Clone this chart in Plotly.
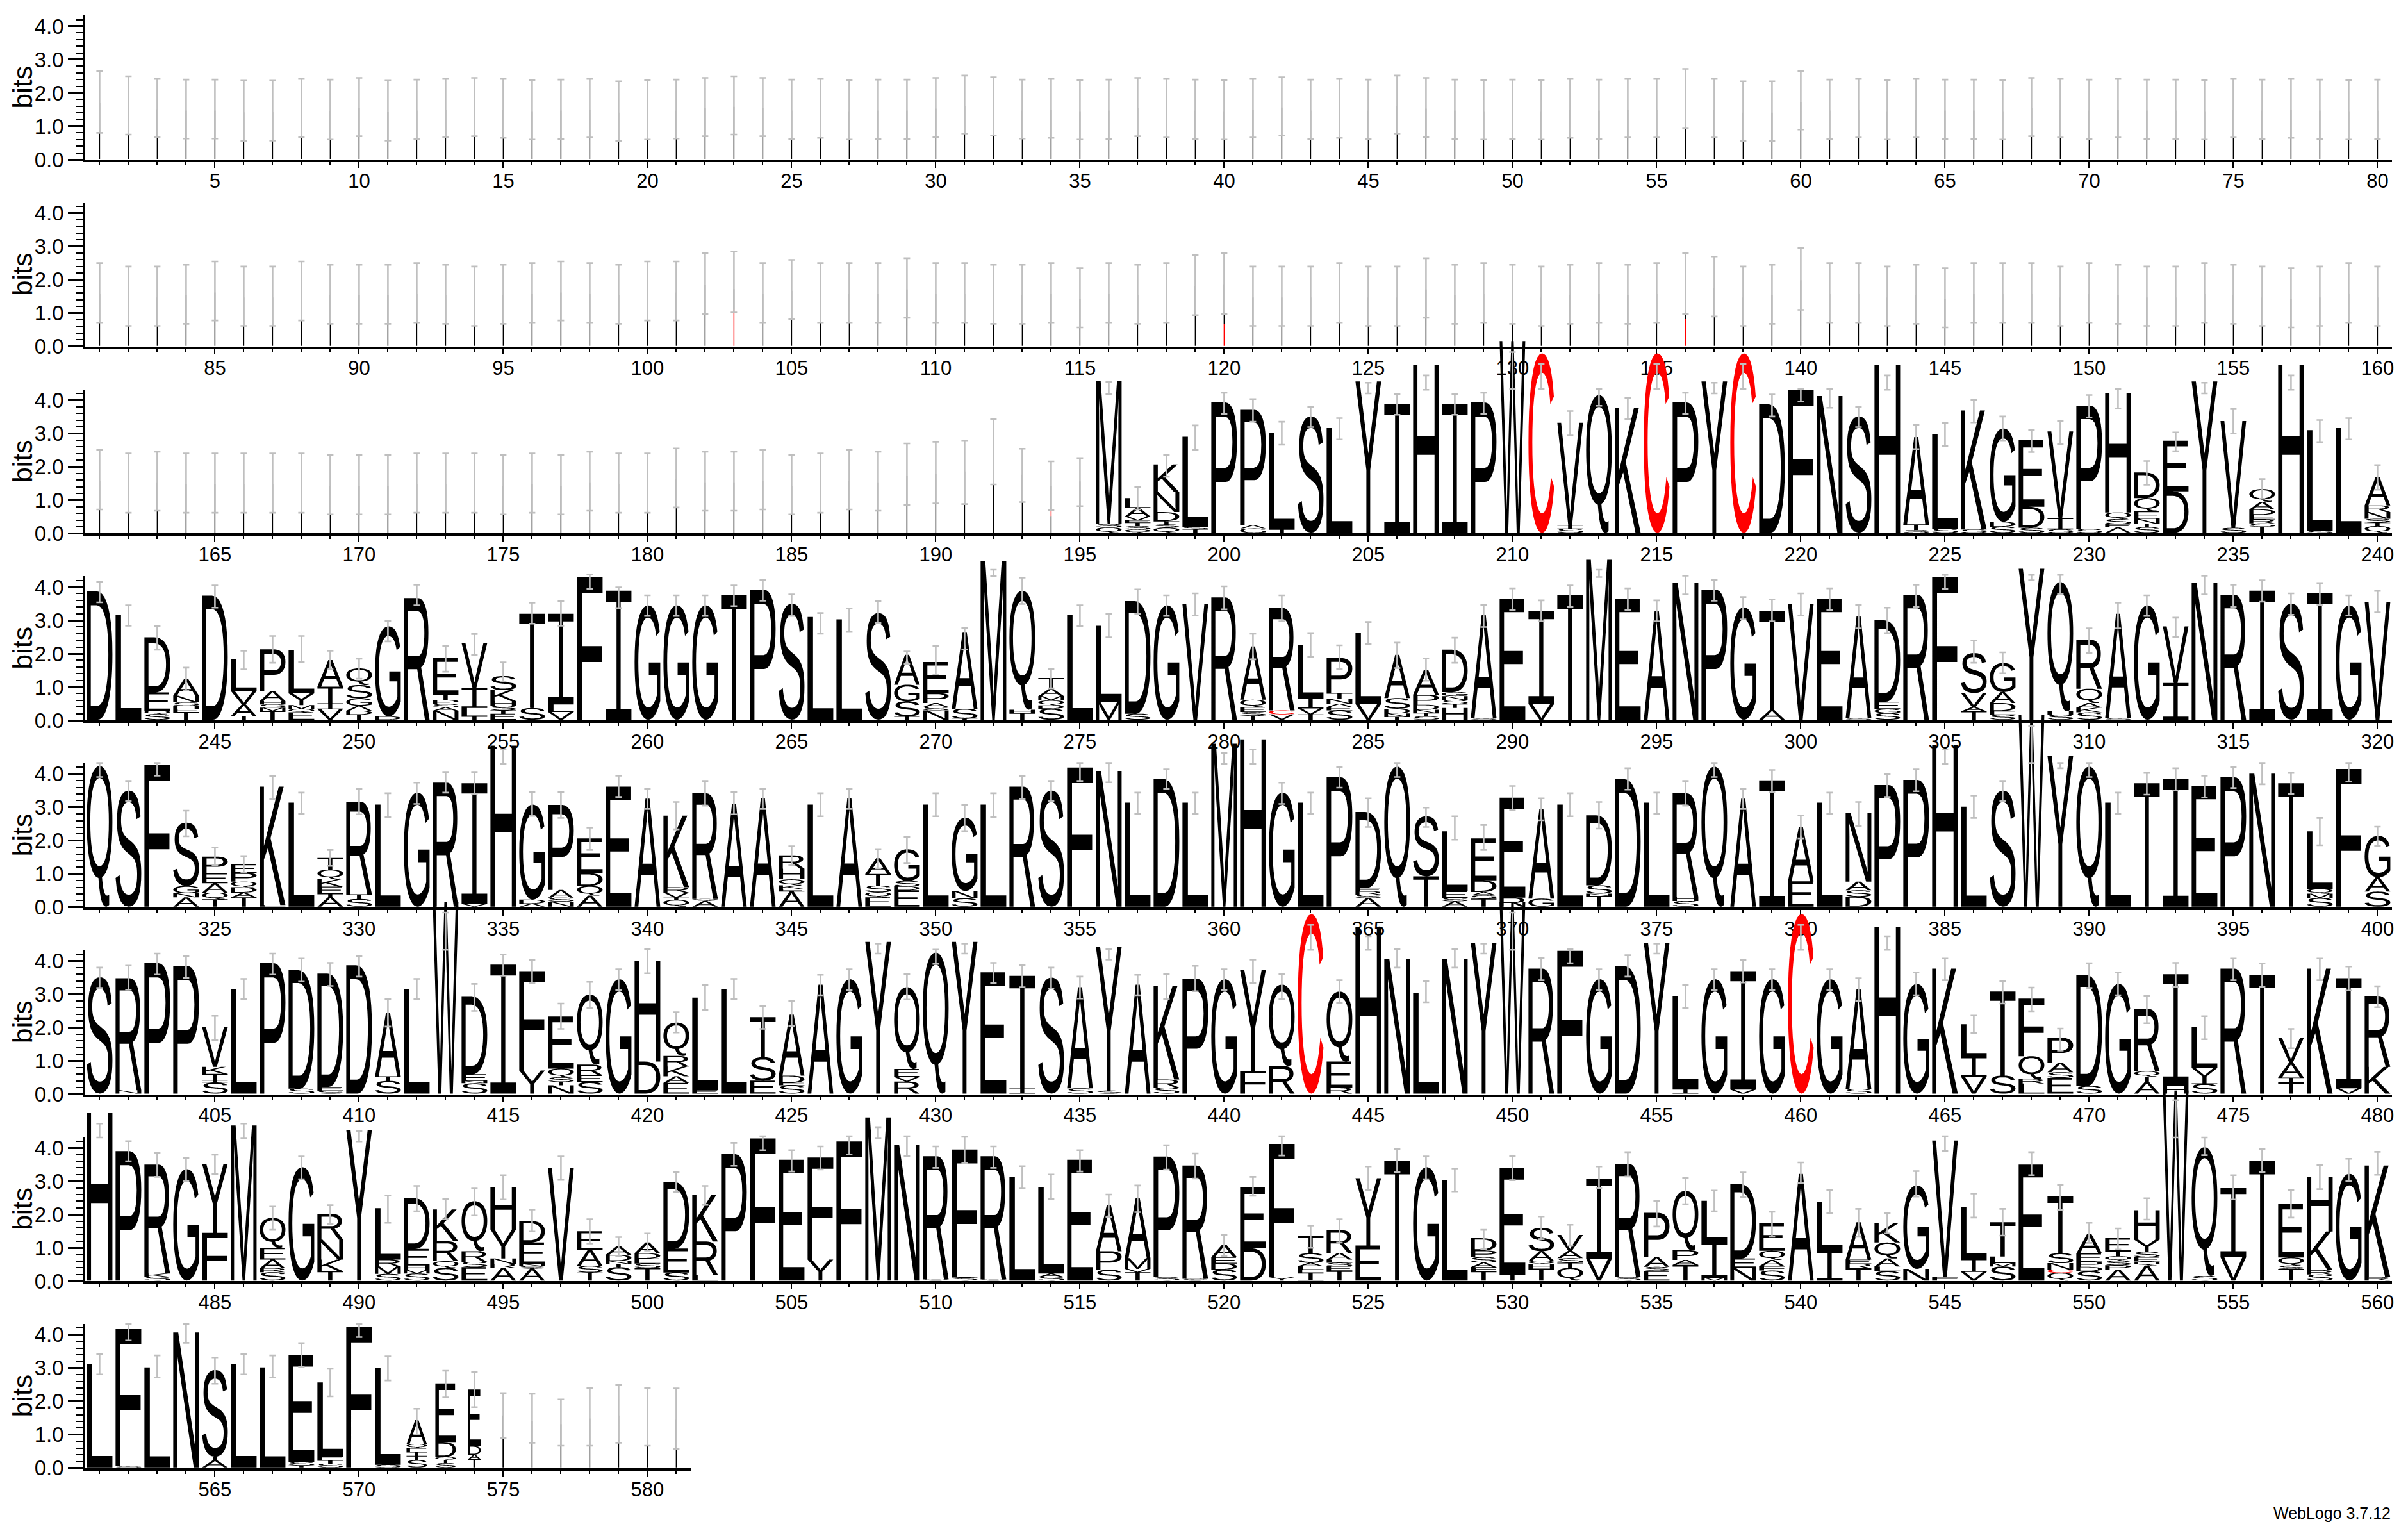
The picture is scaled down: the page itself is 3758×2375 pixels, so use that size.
import glob, struct
import plotly.graph_objects as go

# ---------------- data ----------------
first_positions = [1, 81, 161, 241, 321, 401, 481, 561]
row_lengths = [80, 80, 80, 80, 80, 80, 80, 21]
y_ticks = [0, 1, 2, 3, 4]
y_tick_labels = ["0.0", "1.0", "2.0", "3.0", "4.0"]

err_hi_r1 = [2.65,2.5,2.42,2.4,2.4,2.37,2.37,2.42,2.4,2.45,2.37,2.4,2.42,2.45,2.42,2.38,2.4,2.42,2.35,2.38,
 2.4,2.45,2.5,2.45,2.4,2.42,2.38,2.4,2.4,2.45,2.52,2.47,2.4,2.42,2.38,2.4,2.45,2.42,2.4,2.38,
 2.42,2.47,2.4,2.42,2.4,2.52,2.45,2.4,2.38,2.4,2.38,2.42,2.4,2.42,2.42,2.72,2.42,2.35,2.35,2.65,
 2.4,2.42,2.38,2.42,2.4,2.4,2.38,2.45,2.42,2.4,2.42,2.4,2.4,2.38,2.42,2.4,2.42,2.4,2.38,2.4]
err_lo_r1 = [.8,.75,.68,.63,.63,.55,.57,.67,.6,.7,.57,.62,.67,.7,.65,.6,.62,.66,.55,.6,
 .63,.7,.75,.7,.62,.65,.6,.62,.62,.68,.78,.72,.63,.65,.6,.62,.7,.66,.62,.6,
 .66,.72,.62,.65,.62,.78,.68,.62,.6,.62,.6,.65,.62,.66,.66,.95,.66,.55,.55,.9,
 .62,.66,.6,.66,.62,.62,.6,.7,.66,.62,.66,.62,.62,.6,.66,.62,.65,.62,.6,.62]
stacks_r1 = [None] * 80

err_hi_r2 = [2.5,2.4,2.4,2.45,2.55,2.4,2.4,2.55,2.45,2.45,2.45,2.5,2.45,2.4,2.45,2.5,2.55,2.5,2.45,2.55,
 2.55,2.8,2.85,2.5,2.6,2.5,2.5,2.5,2.65,2.5,2.5,2.45,2.45,2.5,2.35,2.5,2.45,2.5,2.75,2.8,
 2.4,2.4,2.4,2.5,2.4,2.4,2.65,2.45,2.5,2.45,2.4,2.45,2.5,2.45,2.5,2.8,2.7,2.4,2.45,2.95,
 2.5,2.5,2.4,2.45,2.35,2.5,2.5,2.5,2.4,2.5,2.45,2.4,2.4,2.5,2.45,2.4,2.35,2.4,2.5,2.4]
err_lo_r2 = [.72,.62,.62,.68,.78,.62,.62,.78,.68,.68,.68,.72,.68,.62,.68,.72,.78,.72,.68,.78,
 .78,.98,1.02,.72,.82,.72,.72,.72,.86,.72,.72,.68,.68,.72,.57,.72,.68,.72,.94,.98,
 .62,.62,.62,.72,.62,.62,.86,.68,.72,.68,.62,.68,.72,.68,.72,.98,.9,.62,.68,1.1,
 .72,.72,.62,.68,.57,.72,.72,.72,.62,.72,.68,.62,.62,.72,.68,.62,.57,.62,.72,.62]
stacks_r2 = [None] * 80
stacks_r2[22] = "|.6 c1.1"
stacks_r2[39] = "|1.2 c.65"
stacks_r2[55] = "|1.1 c.8"

err_hi_r3 = [2.5,2.4,2.45,2.4,2.4,2.4,2.4,2.4,2.35,2.35,2.35,2.4,2.4,2.4,2.35,2.4,2.35,2.45,2.4,2.4,
 2.55,2.45,2.45,2.5,2.35,2.4,2.5,2.45,2.7,2.75,2.79,3.43,2.54,2.16,2.26,
 4.54,1.4,2.36,3.24,4.22,4.03,3.35,3.79,3.46,4.52,4.18,4.74,4.18,4.22,5.44,5.08,3.67,4.34,4.07,5.08,
 4.22,4.52,5.08,4.17,4.34,4.34,3.79,4.74,3.26,3.32,4.0,3.51,3.11,3.38,4.15,4.34,2.17,3.03,4.52,3.73,
 1.63,4.74,3.4,3.46,2.05]
err_lo_r3 = [.72,.62,.68,.62,.62,.62,.62,.62,.57,.57,.57,.62,.62,.62,.57,.62,.57,.68,.62,.62,
 .78,.68,.68,.72,.57,.62,.72,.68,.86,.9,.88,1.47,.94,.7,.82,
 4.18,.72,1.7,2.51,3.59,3.35,2.66,3.19,2.82,4.2,3.56,4.31,3.56,3.59,4.33,4.33,2.94,3.83,3.43,4.33,
 3.59,4.2,4.33,3.51,3.96,3.77,3.19,4.31,2.53,2.62,3.33,2.79,2.44,2.68,3.48,3.75,1.46,2.47,4.2,3.0,
 1.04,4.31,2.74,2.82,1.31]
stacks_r3 = [None] * 30 + ["|1.84", "|2.45", "|1.74", "|.7 c.2 |.5", "|1.54",
 "M4.3 S.1 Q.16", "L.3 A.25 V.12 E.07 T.1 S.1 Q.1", "K.83 N.6 D.27 T.1 S.1 Q.15", "L2.7 S.08 T.1", "P3.91",
 "P3.46 A.1 G.13", "L2.9 T.1", "S3.49", "L3.14", "Y4.54", "I3.87", "H5.04", "I3.87", "P3.91", "W5.75",
 "C5.38", "V3.08 I.1 S.12", "Q4.13", "K3.75", "C5.38", "P3.91", "Y4.54", "C5.38", "D3.85", "F4.28",
 "N4.1", "S3.49", "H5.04", "A2.62 T.17 S.08", "L2.85 S.12", "K3.57 S.1", "G2.8 D.15 S.18", "E2.0 D.63 S.15",
 "V2.6 I.34 S.1", "P3.7 S.11", "H3.57 Q.2 S.15 E.1 A.16", "D.77 Q.4 E.22 N.15 T.1 S.17", "E1.52 D1.24", "Y4.54",
 "V3.2 S.15", "Q.38 A.23 D.16 E.14 R.12 S.1 T.18", "H5.04", "L3.03 S.05", "L3.14", "A.85 R.2 N.2 S.12 T.1 Q.2"]

err_hi_r4 = [4.15,3.45,2.83,1.58,4.05,2.09,2.53,2.53,2.09,1.85,2.99,4.07,2.24,2.59,1.74,3.53,3.57,4.38,3.99,3.75,
 3.75,3.75,4.05,4.21,3.78,3.22,3.36,3.57,2.07,2.24,2.77,4.52,4.28,1.54,3.45,3.19,3.93,3.75,3.81,4.02,
 2.6,3.75,2.62,2.25,2.95,2.33,1.86,2.48,3.46,3.96,3.6,4.05,4.52,3.96,3.6,4.34,4.22,3.7,3.62,3.81,
 3.96,3.47,3.38,4.07,4.36,2.39,2.04,4.36,4.36,2.76,3.53,3.75,3.08,4.34,4.07,4.2,3.81,4.12,3.75,3.88]
err_lo_r4 = [3.54,2.84,2.12,.89,3.38,1.53,1.73,1.75,1.53,1.25,2.37,3.45,1.46,1.96,1.16,2.9,2.84,3.94,3.37,3.13,
 3.13,3.13,3.43,3.59,3.13,2.6,2.67,2.92,1.69,1.38,2.13,4.33,3.49,.96,2.82,2.49,3.2,3.13,3.14,3.33,
 1.83,2.97,1.9,1.54,2.29,1.57,1.19,1.73,2.8,3.31,2.97,3.4,4.3,3.31,2.97,3.78,3.59,3.03,2.97,3.14,
 3.31,2.76,2.62,3.4,3.94,1.73,1.41,4.2,3.79,2.02,2.76,3.13,2.5,3.78,3.4,3.56,3.17,3.46,3.14,3.24]
stacks_r4 = ["D3.85", "L3.14", "D1.65 E.55 Q.1 S.17", "A.5 N.2 S.1 H.1 E.1 T.22", "D3.72", "L.95 V.4 A.35 T.11", "P1.25 A.3 H.1 S.1 M.1 T.26", "L1.3 Y.35 M.12 Q.1 E.22", "A.8 T.5 I.17 V.32", "Q.5 S.4 G.22 A.15 D.12 T.15",
 "G2.7 D.1", "R3.65", "E1.1 T.17 P.12 S.1 A.1 N.27", "V1.35 I.6 L.25 T.1", "S.42 K.33 H.14 S.14 T.1 E.18", "T2.83 S.35", "I2.72 L.23 V.23", "F4.27", "I3.87", "G3.43",
 "G3.43", "G3.43", "T3.73", "P3.9", "S3.48", "L3.08", "L3.01", "S3.2", "A.9 G.5 S.45 T.1", "E.93 P.3 A.12 S.1 N.28",
 "A2.3 S.3 T.03", "M4.75", "Q3.57 H.1 T.2", "T.32 A.22 M.13 Q.15 D.1 S.33", "L3.14", "L2.3 M.52", "D3.38 S.18", "G3.43", "V3.46", "R3.67",
 "A1.6 Q.22 E.15 S.11 T.12", "R3.07 C.12 V.16", "L1.6 I.3 V.18 T.16", "P1.05 T.18 N.14 A.1 E.1 S.28", "L2.13 V.47", "A1.3 S.32 D.14 N.1 T.09", "A.75 P.3 D.15 N.1 T.1 S.1", "D1.27 G.12 N.12 S.12 T.12 H.35", "A3.08 S.06", "E3.63",
 "I2.78 V.47", "T3.73", "M4.8", "E3.63", "A3.27", "N4.1", "P3.9", "G3.37", "T2.96 A.3", "V3.48",
 "E3.63", "A3.05 S.05", "D2.44 E.22 G.12 S.2", "R3.75", "F4.27", "S1.2 V.42 A.13 T.25", "G.87 A.33 D.24 E.11 S.15", "Y4.53", "Q3.88 H.1 S.15", "R1.47 Q.43 A.14 K.14 S.22",
 "A3.13 S.05", "G3.43", "V1.7 I1.1", "N4.1", "R3.75", "I3.87", "S3.48", "I3.8", "G3.43", "V3.54"]

err_hi_r5 = [4.33,3.79,4.33,2.9,1.79,1.54,3.93,3.44,1.72,3.56,3.42,3.74,4.06,4.06,4.73,3.45,3.45,2.39,3.95,3.56,
 3.16,3.79,3.45,3.56,1.83,3.42,3.56,1.73,2.11,3.42,3.08,3.42,3.93,3.79,4.33,4.33,3.44,4.14,3.44,4.63,
 4.73,3.74,3.44,4.2,3.27,4.33,2.99,2.73,2.47,3.64,3.27,3.42,3.16,4.17,3.44,3.79,4.33,3.56,4.12,2.76,
 3.44,3.16,3.99,4.14,4.73,3.35,3.79,5.43,4.33,4.33,3.44,4.03,4.17,3.95,4.2,4.33,4.03,2.68,4.33,2.42]
err_lo_r5 = [3.91,3.18,3.95,2.13,1.27,1.04,3.24,2.81,1.24,2.79,2.71,3.1,3.44,3.4,4.31,2.74,2.68,1.72,3.31,2.95,
 2.34,3.05,2.79,2.95,1.27,2.73,2.95,1.17,1.33,2.73,2.29,2.71,3.24,3.18,3.79,3.75,2.81,3.56,2.81,4.31,
 4.31,3.1,2.81,3.59,2.41,3.91,2.41,2.03,1.72,2.92,2.61,2.73,2.36,3.53,2.81,3.05,3.91,2.95,3.46,2.07,
 2.81,2.44,3.31,3.48,4.31,2.68,3.18,4.33,4.17,3.91,2.81,3.38,3.51,3.29,3.58,3.69,3.4,1.86,3.77,1.85]
stacks_r5 = ["Q4.22", "S3.48", "F4.25", "S1.9 G.22 N.12 A.28", "P.5 E.3 A.28 Q.2 T.22", "E.26 P.26 Q.17 D.16 A.14 T.28", "K3.55 L.05", "L3.12", "T.35 Q.29 K.22 E.22 I.09 A.29", "R2.78 T.14 S.23",
 "L3.06", "G3.42", "R3.72", "I3.62 V.08", "H4.83", "G2.85 D.12 A.09", "P2.55 A.23 S.12 N.15", "E1.04 D.39 Q.29 A.33", "E3.6", "A3.24",
 "K2.15 R.16 V.15 I.07 Q.2", "R3.17 Q.06 A.17", "A3.08", "A3.25", "R.4 H.32 Q.18 K.11 E.08 A.45", "L3.06", "A3.25", "A.47 T.35 S.2 Q.15 E.28", "G.95 S.16 D.12 E.49", "L3.06",
 "G2.2 N.22 S.25", "L3.06", "R3.6", "S3.48", "F4.17", "N4.07", "L3.12", "D3.83", "L3.12", "M4.89",
 "H5.02", "G3.42", "L3.12", "P3.88", "D2.28 E.1 R.1 S.1 A.26", "Q4.2", "S1.8 T.91", "L1.8 E.2 S.1 A.16", "E1.26 D.35 A.1 S.1 T.24", "E3.0 R.27",
 "A2.68 G.24", "L3.06", "D2.1 S.25 N.07 T.32", "D3.82", "L3.12", "R3.1 H.13 S.17", "Q4.2", "A3.24", "I3.79", "A1.63 E.76",
 "L3.12", "N2.05 A.26 S.19 D.3", "P3.65", "P3.8", "H4.86", "L3.0", "S3.48", "W5.75", "Y4.52", "Q4.2",
 "L3.12", "T3.7", "I3.83", "E3.62", "P3.88", "N3.99", "T3.7", "L1.73 Q.14 M.13 S.26", "F4.13", "G1.24 A.43 S.45"]

err_hi_r6 = [3.8,3.86,4.22,4.15,2.35,3.46,4.22,4.07,3.94,4.15,2.85,3.46,5.45,3.31,4.19,4.03,2.72,3.37,3.75,4.35,
 2.46,3.27,3.46,2.65,2.8,3.58,3.75,4.52,3.6,4.34,4.52,3.94,3.88,3.8,3.53,4.36,3.58,3.6,3.85,3.75,
 4.04,3.6,5.08,3.42,4.74,4.35,3.4,4.35,4.52,5.45,4.08,4.35,3.75,4.17,4.52,3.28,3.75,4.02,3.75,5.08,
 3.75,3.48,4.74,3.65,4.07,2.36,3.4,3.2,1.97,3.93,3.65,2.95,3.94,2.34,4.07,3.92,1.96,4.07,3.83,3.24]
err_lo_r6 = [3.19,3.14,3.59,3.49,1.63,2.85,3.59,3.38,3.25,3.53,2.03,2.85,4.33,2.5,3.56,3.33,1.96,2.58,3.12,3.63,
 1.85,2.53,2.85,1.96,2.05,2.97,3.12,4.22,2.84,3.91,4.22,3.33,3.21,3.17,2.87,4.04,2.97,2.85,3.09,3.12,
 3.33,2.85,4.33,2.74,4.33,3.8,2.76,3.8,4.22,4.33,3.42,3.93,3.12,3.53,4.22,2.58,3.12,3.35,3.12,4.33,
 3.12,2.8,4.33,2.97,3.42,1.83,2.72,2.49,1.31,3.19,2.97,2.13,3.22,1.65,3.42,3.22,1.38,3.42,3.11,2.61]
stacks_r6 = ["S3.49", "R3.36 N.1", "P3.91", "P3.83", "V1.19 K.21 T.2 I.06 S.33", "L3.14", "P3.91", "D3.55 S.15", "D3.4 E.12 S.08", "D3.85",
 "A1.9 T.14 S.38", "L3.14", "W5.75", "D2.34 E.2 N.07 S.31", "I3.87", "F2.98 Y.69", "E1.56 Q.26 S.14 T.1 N.25", "Q2.1 R.32 E.2 S.35", "G3.43", "H3.03 D.96",
 "Q1.0 R.32 K.29 A.2 E.32", "L2.78 E.1", "L3.14", "T1.2 S.7 E.39", "A1.83 D.22 E.07 S.25", "A3.27", "G3.43", "Y4.55", "Q2.45 E.24 V.14 R.36", "Q4.23",
 "Y4.55", "E3.64", "T3.37 I.16", "S3.48", "A3.03 S.16", "Y4.3 S.09", "A3.27", "K2.82 R.24 S.18", "P3.45", "G3.43",
 "Y3.02 F.68", "Q2.44 R.83", "C5.38", "Q2.1 E.78 R.18", "H5.0", "N4.04", "L3.02", "N4.04", "Y4.52", "W5.75",
 "R3.75", "F4.28", "G3.43", "D3.82", "Y4.52", "L2.8 I.13", "G3.43", "I3.55 V.12", "G3.43", "C5.38",
 "G3.43", "A3.0 S.14", "H5.0", "G3.29", "K3.75", "L.97 I.6 V.51", "T2.52 S.54", "F1.73 Q.68 R.14 L.3", "P.74 A.29 S.17 E.47", "D3.33 S.23",
 "G3.29", "R1.87 Q.16 T.16 A.35", "I3.35 H.23", "L1.22 V.26 I.22 S.29", "R3.75", "T3.56", "V.74 A.45 I.16 T.32", "K3.75", "I3.3 V.16", "R2.13 K.8"]

err_hi_r7 = [4.73,4.2,3.85,3.69,3.79,4.73,2.24,3.74,2.28,4.5,2.57,2.86,2.46,2.78,3.18,2.15,3.74,1.86,1.32,1.43,
 3.27,2.86,4.15,4.35,3.93,4.04,4.35,4.62,4.35,4.04,4.33,4.04,3.45,3.2,3.93,2.6,2.87,4.08,3.83,1.38,
 3.13,4.35,1.67,1.86,3.44,3.96,3.74,3.38,1.54,3.76,1.94,1.69,3.44,3.87,2.41,3.1,2.72,3.26,2.08,3.56,
 2.73,2.17,2.04,3.3,4.35,2.63,2.17,3.87,2.89,1.75,1.58,2.49,5.43,4.31,3.18,3.97,2.73,3.48,3.67,3.88]
err_lo_r7 = [4.31,3.6,3.13,3.01,3.21,4.28,1.54,3.06,1.72,4.19,1.75,2.1,1.86,1.97,2.45,1.49,3.04,1.13,.74,.92,
 2.68,2.29,3.46,3.93,3.29,3.35,3.8,4.28,3.76,3.4,3.54,3.4,2.78,2.46,3.29,1.92,2.07,3.35,3.08,.76,
 2.56,3.77,1.0,1.16,2.74,3.27,3.06,2.69,.96,3.03,1.26,1.06,2.79,3.14,1.64,2.31,2.1,2.52,1.33,2.94,
 2.04,1.33,1.43,2.54,3.91,1.91,1.37,3.18,2.13,1.15,.95,1.85,4.31,3.78,2.45,3.27,1.91,2.76,3.01,3.19]
stacks_r7 = ["H5.02", "P3.88", "R3.27 K.1 S.11", "G3.34", "Y2.07 F1.43", "M4.65", "Q.9 E.35 A.26 R.12 S.25", "G3.4", "R.77 N.6 K.35 T.28", "Y4.52",
 "L1.54 R.21 M.22 S.2", "D1.52 E.5 H.14 M.1 S.21", "K.95 R.6 Q.2 S.38", "Q1.5 R.32 S.16 E.4", "H1.28 Y.87 N.16 R.12 A.38", "D.65 E.64 N.07 S.07 A.36", "V3.37", "E.56 A.48 S.2 T.24", "A.26 D.18 N.09 T.1 S.4", "A.32 D.16 E.15 S.13 T.38",
 "D2.0 E.72 S.24", "K1.39 R1.0 L.17", "P3.79", "F4.26", "E3.62", "F3.06 Y.63", "F4.17", "M4.89", "N4.08", "R3.7 S.03",
 "F3.76 L.08 S.09", "R3.7 S.03", "L3.12", "L2.6 A.1 S.11", "E3.62", "A1.38 P.56 S.32", "A1.8 M.32 V.1 T.25", "P3.62 S.1", "R3.4 S.05", "A.38 E.19 D.18 S.33",
 "E1.83 D.97", "F4.0 Y.1", "T.51 S.29 A.1 L.1 E.1 I.23", "R.68 A.2 L.1 S.1 E.14 T.29", "Y2.02 E1.05", "T3.58", "G3.4", "L3.0", "D.37 P.2 S.16 A.14 F.12 T.28", "E3.2 T.18",
 "S.7 A.29 Q.1 H.13 T.36", "V.48 A.22 S.14 T.15 Q.38", "I2.4 V.65", "R3.4 S.1", "P1.33 A.29 S.12 E.29", "Q1.78 P.29 A.15 T.47", "L1.22 I1.09 M.08", "D2.23 E.27 N.39", "E.83 Q.27 A.19 F.13 S.3", "A3.2",
 "L1.46 I.9", "A1.12 E.13 R.13 T.37", "K.58 Q.48 A.24 L.14 S.28", "G2.5 N.35", "V4.1 F.1", "L1.57 I.38 V.26", "T1.03 L.2 M.1 S.42", "E3.48", "T1.7 S.3 N.19 C.1 Q.23", "A.59 E.24 P.16 D.13 S.28",
 "E.4 T.14 Q.14 S.13 P.13 A.33", "H.88 Y.37 S.16 E.13 Q.12 A.45", "W5.7", "Q3.86 S.14", "I2.07 V.7", "T3.58", "E1.62 Q.24 S.1 T.35", "H1.65 K1.16 R.13 S.18", "G3.2", "K3.35 R.1"]

err_hi_r8 = [3.42,4.33,3.38,4.33,3.32,3.42,3.38,3.75,2.98,4.33,3.35,1.78,2.92,2.89,2.25,2.23,2.06,2.4,2.49,2.4,2.39]
err_lo_r8 = [2.81,3.83,2.72,3.76,2.53,2.81,2.72,3.03,2.15,3.93,2.63,1.01,2.12,1.83,.9,.76,.67,.67,.76,.67,.58]
stacks_r8 = ["L3.1", "F4.1 S.05", "L3.0", "N4.05", "S2.6 T.1 A.22", "L3.1", "L3.0", "E3.22 S.1 T.06", "L2.24 E.1 T.1 S.11", "F4.22",
 "L2.9 S.08", "A.72 Q.12 E.12 I.12 T.12 S.22", "E1.76 D.45 Q.08 T.1 S.13", "E1.69 D.27 A.13 T.25", "|1.56", "|1.4", "|1.3", None, None, None, None]

narrow_widths = {572: .71, 573: .71, 574: .44, 575: .05}

all_stacks = [stacks_r1, stacks_r2, stacks_r3, stacks_r4, stacks_r5, stacks_r6, stacks_r7, stacks_r8]
all_err_hi = [err_hi_r1, err_hi_r2, err_hi_r3, err_hi_r4, err_hi_r5, err_hi_r6, err_hi_r7, err_hi_r8]
all_err_lo = [err_lo_r1, err_lo_r2, err_lo_r3, err_lo_r4, err_lo_r5, err_lo_r6, err_lo_r7, err_lo_r8]
for n, s, h, l in zip(row_lengths, all_stacks, all_err_hi, all_err_lo):
    assert len(s) == n and len(h) == n and len(l) == n, (n, len(s), len(h), len(l))

# ---------------- style ----------------
W, H = 3758, 2375
ZERO_Y = [249 + 291.7 * i for i in range(8)]
PLOT_H = 224.7
Y_MAX = 4.32
LEFT, POS_W = 132.9, 45.0
FONT = "Liberation Sans"
GREY = "#bfbfbf"
FULL_W, THIN_W, WIDE_THIN = .89, .034, .06
OVERLAY_TOP = [4.7, 6, 6, 6, 6, 6, 6, 6]


# ---------------- letter outlines come from the installed font ----------------
def flatten(pts):
    full = []
    m = len(pts)
    for i in range(m):
        a, nx = pts[i], pts[(i + 1) % m]
        full.append(a)
        if not a[2] and not nx[2]:
            full.append(((a[0] + nx[0]) / 2, (a[1] + nx[1]) / 2, 1))
    k = next(i for i, p in enumerate(full) if p[2])
    full = full[k:] + full[:k]
    res = []
    m = len(full)
    i = 0
    while i < m:
        p0 = full[i]
        res.append(p0[:2])
        nx = full[(i + 1) % m]
        if not nx[2]:
            p2 = full[(i + 2) % m]
            for t in (.2, .4, .6, .8):
                res.append(((1 - t) ** 2 * p0[0] + 2 * t * (1 - t) * nx[0] + t * t * p2[0],
                            (1 - t) ** 2 * p0[1] + 2 * t * (1 - t) * nx[1] + t * t * p2[1]))
            i += 2
        else:
            i += 1
    return res


def load_outlines(letters):
    path = glob.glob("/usr/share/fonts/**/LiberationSans-Regular.ttf", recursive=True)[0]
    b = open(path, "rb").read()
    n = struct.unpack(">H", b[4:6])[0]
    tab = {}
    for i in range(n):
        e = b[12 + 16 * i:28 + 16 * i]
        tab[e[:4].decode()] = struct.unpack(">I", e[8:12])[0]
    fmt = struct.unpack(">h", b[tab["head"] + 50:tab["head"] + 52])[0]
    c = tab["cmap"]
    sub = None
    for i in range(struct.unpack(">H", b[c + 2:c + 4])[0]):
        p, en, off = struct.unpack(">HHI", b[c + 4 + 8 * i:c + 12 + 8 * i])
        if p == 3 and en == 1:
            sub = c + off
    segx2 = struct.unpack(">H", b[sub + 6:sub + 8])[0]
    u = lambda o: struct.unpack(">H", b[o:o + 2])[0]
    s16 = lambda o: struct.unpack(">h", b[o:o + 2])[0]

    def gid(ch):
        code = ord(ch)
        for i in range(0, segx2, 2):
            end = u(sub + 14 + i)
            start = u(sub + 16 + segx2 + i)
            if start <= code <= end:
                delta = u(sub + 16 + 2 * segx2 + i)
                ro_at = sub + 16 + 3 * segx2 + i
                ro = u(ro_at)
                if ro == 0:
                    return (code + delta) & 0xFFFF
                return (u(ro_at + ro + 2 * (code - start)) + delta) & 0xFFFF
        return 0

    out = {}
    for ch in letters:
        g = gid(ch)
        if fmt:
            o = struct.unpack(">I", b[tab["loca"] + 4 * g:tab["loca"] + 4 * g + 4])[0]
        else:
            o = 2 * u(tab["loca"] + 2 * g)
        p = tab["glyf"] + o
        nc = s16(p)
        x0, y0, x1, y1 = [s16(p + 2 + 2 * k) for k in range(4)]
        q = p + 10
        ends = [u(q + 2 * k) for k in range(nc)]
        q += 2 * nc
        q += 2 + u(q)
        npts = ends[-1] + 1
        flags = []
        while len(flags) < npts:
            f = b[q]; q += 1
            flags.append(f)
            if f & 8:
                r = b[q]; q += 1
                flags += [f] * r

        def coords(short, same):
            nonlocal q
            v, res = 0, []
            for f in flags:
                if f & short:
                    d = b[q]; q += 1
                    v += d if f & same else -d
                elif not f & same:
                    v += s16(q); q += 2
                res.append(v)
            return res

        xs = coords(2, 16)
        ys = coords(4, 32)
        polys, st = [], 0
        for e in ends:
            pts = [(xs[i], ys[i], flags[i] & 1) for i in range(st, e + 1)]
            st = e + 1
            polys.append(flatten(pts))
        out[ch] = [[((a - x0) / (x1 - x0), (c_ - y0) / (y1 - y0)) for a, c_ in poly] for poly in polys]
    return out


GLYPHS = load_outlines("ACDEFGHKLMNPQRSTVWY")
GLYPHS["I"] = [[(0, 0), (0, .085), (.42, .085), (.42, .915), (0, .915), (0, 1), (1, 1), (1, .915),
                (.58, .915), (.58, .085), (1, .085), (1, 0)]]
BAR = [[(0, 0), (0, 1), (1, 1), (1, 0)]]
GLYPHS["|"] = BAR
GLYPHS["c"] = BAR

fig = go.Figure()
layout = {}
annotations = []

for r in range(8):
    first, count = first_positions[r], row_lengths[r]
    suffix = "" if r == 0 else str(r + 1)
    xa, ya = "xaxis" + suffix, "yaxis" + suffix
    xref, yref = "x" + suffix, "y" + suffix
    ov = str(r + 9)
    zero = ZERO_Y[r]
    right = LEFT + POS_W * count
    x_range = [first - .5, first + count - .5]
    # visible axes
    layout[xa] = dict(domain=[LEFT / W, right / W], range=x_range, anchor=yref, automargin=False,
                      showgrid=False, zeroline=False, showline=True, linecolor="black", linewidth=3.5,
                      ticks="outside", tick0=0, dtick=5, ticklen=9, tickwidth=1.6, tickcolor="black",
                      ticklabelstandoff=-6,
                      tickfont=dict(family=FONT, size=31, color="black"),
                      minor=dict(dtick=1, tick0=first, ticks="outside", ticklen=5, tickwidth=1.6, tickcolor="black"))
    layout[ya] = dict(domain=[1 - zero / H, 1 - (zero - PLOT_H) / H], range=[0, Y_MAX], anchor=xref, automargin=False,
                      showgrid=False, zeroline=False, showline=True, linecolor="black", linewidth=3.5,
                      ticks="outside", tickmode="array", tickvals=y_ticks, ticktext=y_tick_labels,
                      ticklen=23, tickwidth=3, tickcolor="black",
                      tickfont=dict(family=FONT, size=33, color="black"),
                      minor=dict(dtick=.2, tick0=0, ticks="outside", ticklen=11, tickwidth=2.2, tickcolor="black"))
    # hidden taller axes with the same bit scale: tall letters rise past the visible spine, as in the logo
    top = OVERLAY_TOP[r]
    layout["xaxis" + ov] = dict(domain=[LEFT / W, right / W], range=x_range, anchor="y" + ov, visible=False, automargin=False)
    layout["yaxis" + ov] = dict(domain=[1 - zero / H, 1 - (zero - top * PLOT_H / Y_MAX) / H], range=[0, top],
                                anchor="x" + ov, visible=False, automargin=False)
    annotations.append(dict(text="bits", textangle=-90, xref="paper", yref="paper", x=35 / W,
                            y=1 - (zero - PLOT_H / 2) / H, showarrow=False, xanchor="center", yanchor="middle",
                            font=dict(family=FONT, size=43, color="black")))

    positions = list(range(first, first + count))
    mids = [(h + l) / 2 for h, l in zip(all_err_hi[r], all_err_lo[r])]
    halves = [(h - l) / 2 for h, l in zip(all_err_hi[r], all_err_lo[r])]
    # an invisible trace keeps the visible axes of this row on the page
    fig.add_trace(go.Scatter(x=positions, y=mids, mode="markers", marker=dict(size=1, opacity=0),
                             xaxis=xref, yaxis=yref, showlegend=False, name="axes", hoverinfo="skip"))
    black_x, black_y, black_t, red_x, red_y, red_t = [], [], [], [], [], []
    for i, p in enumerate(positions):
        hi, lo = all_err_hi[r][i], all_err_lo[r][i]
        stack = all_stacks[r][i]
        if stack is None:
            stack = "|%.2f" % ((hi + lo) / 2 - .06)
        tokens = stack.split()
        is_thin = "|" in stack
        width = narrow_widths.get(p, (WIDE_THIN if p == 192 else THIN_W) if is_thin else FULL_W)
        base = 0.02
        for tok in reversed(tokens):
            letter, h = tok[0], float(tok[1:])
            red = letter in "Cc"
            tx, ty, tt = (red_x, red_y, red_t) if red else (black_x, black_y, black_t)
            for poly in GLYPHS[letter]:
                for (u_, v_) in poly:
                    tx.append(p + (u_ - .5) * width)
                    ty.append(base + v_ * h)
                    tt.append(letter.upper())
                tx.append(None)
                ty.append(None)
                tt.append(None)
            base += h
    for xs_, ys_, ts_, col, nm in ((black_x, black_y, black_t, "black", "letters"), (red_x, red_y, red_t, "#ff0000", "C")):
        if xs_:
            fig.add_trace(go.Scatter(x=xs_, y=ys_, text=ts_, mode="lines", fill="toself", fillcolor=col,
                                     line=dict(width=0, color=col, simplify=False), hoverinfo="text", name=nm,
                                     xaxis="x" + ov, yaxis="y" + ov, showlegend=False))
    fig.add_trace(go.Scatter(x=positions, y=mids, mode="markers", marker=dict(size=1, opacity=0),
                             error_y=dict(type="data", array=halves, color=GREY, thickness=2.6, width=5),
                             xaxis="x" + ov, yaxis="y" + ov, showlegend=False, name="error", hoverinfo="skip"))

annotations.append(dict(text="WebLogo 3.7.12", xref="paper", yref="paper", x=3733 / W, y=1 - 2361 / H,
                        showarrow=False, xanchor="right", yanchor="middle",
                        font=dict(family=FONT, size=25, color="black")))
fig.update_layout(template="none", width=W, height=H, margin=dict(l=0, r=0, t=0, b=0), paper_bgcolor="white",
                  plot_bgcolor="rgba(0,0,0,0)", showlegend=False, annotations=annotations, **layout)
fig.write_html("out.html", config={"displayModeBar": False}, post_script="document.body.style.margin='0';")
